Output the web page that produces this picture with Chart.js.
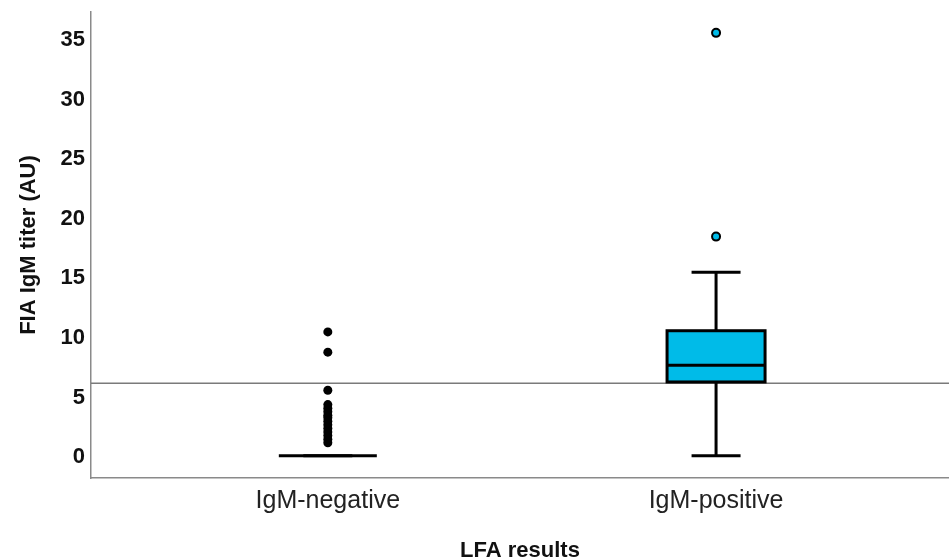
<!DOCTYPE html>
<html>
<head>
<meta charset="utf-8">
<script src="https://cdn.jsdelivr.net/npm/chart.js@4"></script>
<style>
  body { margin: 0; background: #fff; }
  #wrap { width: 949px; height: 559px; }
</style>
</head>
<body>
<div id="wrap"><canvas id="boxChart"></canvas></div>
<script>
// Groups on the x axis
const categories = ['IgM-negative', 'IgM-positive'];

// Box summaries per group (whisker low, Q1, median, Q3, whisker high)
const whiskerLow = [0.1, 0.1];
const q1 = [0.1, 6.3];
const median = [0.1, 7.7];
const q3 = [0.1, 10.6];
const whiskerHigh = [0.1, 15.5];

// Outliers per group
const negOutliers = [10.5, 8.8, 5.6, 4.4, 4.1, 3.8, 3.5, 3.3, 3.0, 2.7, 2.4, 2.1, 1.8, 1.5, 1.2];
const posOutliers = [35.6, 18.5];

// Cut-off line and y ticks
const cutoff = 6.2;
const yTicks = [0, 5, 10, 15, 20, 25, 30, 35];

const xMin = -0.61, xMax = 1.6;

// draws boxes, whiskers and medians with the chart scales
const boxPlugin = {
    id: 'boxes',
    afterDatasetsDraw(chart) {
        const ctx = chart.ctx;
        const xs = chart.scales.x, ys = chart.scales.y;
        const halfBox = 49, halfCap = 24.5;
        ctx.save();
        ctx.strokeStyle = '#000';
        ctx.lineWidth = 3;
        categories.forEach((c, i) => {
            const cx = xs.getPixelForValue(i);
            const yLo = ys.getPixelForValue(whiskerLow[i]);
            const yHi = ys.getPixelForValue(whiskerHigh[i]);
            const yQ1 = ys.getPixelForValue(q1[i]);
            const yQ3 = ys.getPixelForValue(q3[i]);
            const yMed = ys.getPixelForValue(median[i]);
            // whiskers
            ctx.beginPath();
            ctx.moveTo(cx, yQ1); ctx.lineTo(cx, yLo);
            ctx.moveTo(cx, yQ3); ctx.lineTo(cx, yHi);
            ctx.moveTo(cx - halfCap, yLo); ctx.lineTo(cx + halfCap, yLo);
            ctx.moveTo(cx - halfCap, yHi); ctx.lineTo(cx + halfCap, yHi);
            ctx.stroke();
            // box
            if (yQ1 - yQ3 > 0.5) {
                ctx.fillStyle = '#00bbe8';
                ctx.fillRect(cx - halfBox, yQ3, halfBox * 2, yQ1 - yQ3);
                ctx.strokeRect(cx - halfBox, yQ3, halfBox * 2, yQ1 - yQ3);
            }
            ctx.beginPath();
            ctx.moveTo(cx - halfBox, yMed); ctx.lineTo(cx + halfBox, yMed);
            ctx.stroke();
        });
        ctx.restore();
    }
};

const ctx = document.getElementById('boxChart').getContext('2d');
const boxChart = new Chart(ctx, {
    type: 'scatter',
    data: {
        datasets: [
            {
                type: 'line',
                data: [{ x: xMin, y: cutoff }, { x: xMax, y: cutoff }],
                borderColor: '#7a7a7a',
                borderWidth: 1.5,
                pointRadius: 0
            },
            {
                data: negOutliers.map(v => ({ x: 0, y: v })),
                backgroundColor: '#000',
                borderColor: '#000',
                pointRadius: 4.5,
                borderWidth: 0
            },
            {
                data: posOutliers.map(v => ({ x: 1, y: v })),
                backgroundColor: '#00bbe8',
                borderColor: '#000',
                pointRadius: 4,
                borderWidth: 2
            }
        ]
    },
    options: {
        responsive: true,
        maintainAspectRatio: false,
        animation: false,
        layout: { autoPadding: false, padding: { top: 12, right: 0, left: 0, bottom: 0 } },
        plugins: {
            legend: { display: false },
            tooltip: { enabled: false }
        },
        scales: {
            x: {
                type: 'linear',
                min: xMin,
                max: xMax,
                afterBuildTicks: s => { s.ticks = categories.map((c, i) => ({ value: i })); },
                afterFit: s => { s.height = 81; s.paddingLeft = 0; s.paddingRight = 0; },
                ticks: {
                    callback: v => categories[v],
                    color: '#222',
                    font: { family: 'Liberation Sans', size: 25 },
                    padding: 8
                },
                grid: { display: false, drawTicks: false },
                border: { color: '#8a8a8a', width: 1.5 },
                title: {
                    display: true,
                    text: 'LFA results',
                    color: '#111',
                    font: { family: 'Liberation Sans', size: 22, weight: 'bold' },
                    padding: { top: 0, bottom: -5 }
                }
            },
            y: {
                min: -1.76,
                max: 37.35,
                afterBuildTicks: s => { s.ticks = yTicks.map(v => ({ value: v })); },
                afterFit: s => { s.width = 91; s.paddingTop = 0; s.paddingBottom = 0; },
                ticks: {
                    color: '#111',
                    font: { family: 'Liberation Sans', size: 22, weight: 'bold' },
                    padding: 6
                },
                grid: { display: false, drawTicks: false },
                border: { color: '#8a8a8a', width: 1.5 },
                title: {
                    display: true,
                    text: 'FIA IgM titer (AU)',
                    color: '#111',
                    font: { family: 'Liberation Sans', size: 22, weight: 'bold' },
                    padding: { top: 16, bottom: 0 }
                }
            }
        }
    },
    plugins: [boxPlugin]
});
</script>
</body>
</html>
